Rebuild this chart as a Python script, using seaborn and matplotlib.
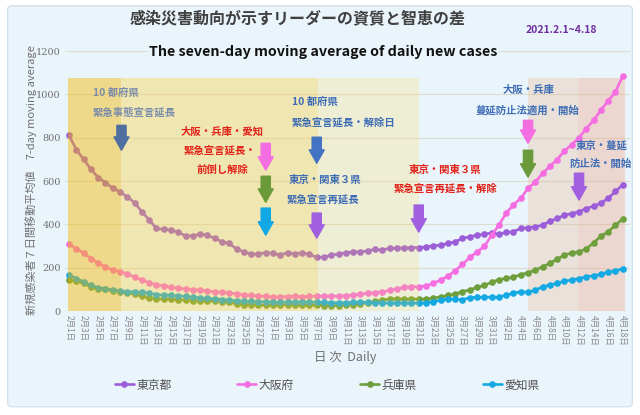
import numpy as np
import pandas as pd
import seaborn as sns
import matplotlib.pyplot as plt
from matplotlib.patches import FancyBboxPatch

# データ (2021.2.1 ~ 4.18, 7日間移動平均)
prefs = ['東京都', '大阪府', '兵庫県', '愛知県']
colors = ['#9b5ed8', '#f46ee2', '#6f9f3c', '#14a9e3']

tokyo = [811, 745, 700, 655, 616, 593, 567, 550, 527, 500,
         458, 420, 381, 377, 374, 363, 347, 347, 355, 350,
         335, 320, 312, 286, 273, 263, 263, 270, 266, 258,
         270, 263, 269, 261, 248, 248, 258, 263, 269, 273,
         273, 278, 284, 281, 290, 290, 291, 293, 293, 296,
         301, 304, 312, 320, 335, 343, 350, 354, 361, 354,
         363, 366, 381, 384, 389, 396, 415, 427, 442, 450,
         458, 473, 484, 498, 520, 552, 583]
osaka = [308, 288, 268, 242, 222, 202, 190, 182, 172, 156,
         144, 130, 121, 116, 110, 106, 101, 98, 97, 93,
         89, 86, 83, 79, 75, 72, 70, 67, 65, 66,
         66, 68, 66, 67, 69, 69, 69, 69, 71, 74,
         78, 81, 85, 89, 95, 103, 109, 112, 112, 116,
         128, 143, 161, 186, 215, 247, 273, 298, 350, 396,
         452, 490, 520, 566, 596, 635, 668, 699, 739, 768,
         800, 842, 880, 927, 970, 1011, 1085]
hyogo = [143, 138, 128, 110, 103, 100, 93, 88, 82, 80,
         68, 62, 57, 55, 55, 53, 50, 48, 47, 47,
         45, 43, 40, 33, 30, 30, 28, 27, 28, 28,
         30, 30, 27, 27, 27, 25, 25, 25, 27, 30,
         33, 38, 45, 50, 55, 57, 55, 55, 55, 55,
         60, 65, 72, 78, 90, 97, 110, 118, 133, 144,
         151, 156, 168, 176, 189, 204, 220, 240, 258, 268,
         273, 287, 315, 345, 366, 396, 425]
aichi = [165, 150, 135, 118, 108, 103, 97, 93, 90, 88,
         86, 82, 76, 73, 72, 70, 67, 63, 60, 58,
         56, 52, 50, 47, 45, 44, 43, 42, 41, 40,
         42, 42, 41, 41, 40, 40, 38, 38, 38, 40,
         40, 40, 38, 37, 36, 37, 37, 36, 36, 38,
         43, 50, 55, 54, 52, 62, 63, 64, 64, 63,
         74, 82, 89, 86, 96, 112, 120, 128, 138, 143,
         150, 158, 163, 170, 180, 186, 195]

dates = pd.date_range('2021-02-01', periods=len(tokyo))
date_labels = [f'{d.month}月{d.day}日' for d in dates]
day_idx = np.arange(len(dates))

df = pd.DataFrame({'day': day_idx, '東京都': tokyo, '大阪府': osaka,
                   '兵庫県': hyogo, '愛知県': aichi})
long_df = df.melt(id_vars='day', var_name='pref', value_name='cases')

sns.set_style('white')
plt.rcParams['font.family'] = ['Noto Sans CJK JP', 'DejaVu Sans']

fig = plt.figure(figsize=(6.4, 4.15), dpi=100)
fig.patch.set_facecolor('white')
fig.patches.append(FancyBboxPatch((0.012, 0.02), 0.976, 0.966,
                                  boxstyle='round,pad=0,rounding_size=0.008',
                                  transform=fig.transFigure, facecolor='#eaf4fb',
                                  edgecolor='#d3e1ec', linewidth=1, zorder=-10))

ax = fig.add_axes([0.1016, 0.2506, 0.8828, 0.6265])
ax.patch.set_alpha(0)

sns.lineplot(data=long_df, x='day', y='cases', hue='pref', hue_order=prefs,
             palette=colors, marker='o', markersize=4.8, markeredgewidth=0,
             linewidth=1.9, legend=False, ax=ax, zorder=3)

# 背景の期間区分 (黄色系は線の上に重ねる)
top = 1074 / 1200
ax.axvspan(-0.1, 7.2, ymax=top, color='#f5b800', alpha=0.45, lw=0, zorder=4)
ax.axvspan(7.2, 34.2, ymax=top, color='#ffcc20', alpha=0.33, lw=0, zorder=4)
ax.axvspan(34.2, 48, ymax=top, color='#ffd840', alpha=0.2, lw=0, zorder=4)
ax.axvspan(63, 69.9, ymax=top, color='#e8b890', alpha=0.3, lw=0, zorder=1)
ax.axvspan(69.9, 76.3, ymax=top, color='#f0a080', alpha=0.35, lw=0, zorder=1)

ax.set_xlim(-0.55, 77)
ax.set_ylim(0, 1200)
ax.set_xticks(day_idx[::2])
ax.set_xticklabels(date_labels[::2], rotation=270, fontsize=6, color='#8a8a8a')
ax.set_yticks(range(0, 1201, 200))
ax.set_yticklabels([str(v) for v in range(0, 1201, 200)],
                   fontsize=7, color='#707070', family='DejaVu Serif')
ax.tick_params(length=0, pad=3)
ax.grid(axis='y', color='#dcdcd2', linewidth=0.8)
ax.set_axisbelow(True)
sns.despine(ax=ax, left=True, bottom=True)
ax.set_xlabel('')
ax.set_ylabel('')


def down_arrow(x, y0, y1, color):
    ax.annotate('', xy=(x, y1), xytext=(x, y0), zorder=6,
                arrowprops=dict(arrowstyle='simple,head_width=0.9,head_length=0.8,tail_width=0.55',
                                color=color, mutation_scale=12, shrinkA=0, shrinkB=0))


def note(x, y, s, color, ha='center'):
    ax.text(x, y, s, ha=ha, va='center', fontsize=7.5, fontweight='bold',
            color=color, zorder=6)


blue = '#3e6db5'
red = '#e2231a'
grayblue = '#7b8cab'

note(3.3, 1005, '10 都府県', grayblue, ha='left')
note(3.3, 917, '緊急事態宣言延長', grayblue, ha='left')
down_arrow(7.2, 857, 742, '#4f6fa0')

note(21, 830, '大阪・兵庫・愛知', red)
note(20.7, 742, '緊急宣言延長・', red)
note(21, 650, '前倒し解除', red)
down_arrow(27, 774, 650, '#f46ee2')
down_arrow(27, 622, 502, '#6a9a3a')
down_arrow(27, 475, 350, '#12a8e6')

note(30.6, 963, '10 都府県', blue, ha='left')
note(30.6, 871, '緊急宣言延長・解除日', blue, ha='left')
down_arrow(34, 802, 682, '#4472c4')
note(30.1, 604, '東京・関東３県', blue, ha='left')
note(29.8, 516, '緊急宣言再延長', blue, ha='left')
down_arrow(34, 452, 336, '#a060e0')

note(51.6, 650, '東京・関東３県', red)
note(51.6, 567, '緊急宣言再延長・解除', red)
down_arrow(48, 489, 364, '#a060e0')

note(63.1, 1019, '大阪・兵庫', blue)
note(62.9, 927, '蔓延防止法適用・開始', blue)
down_arrow(63, 880, 774, '#f46ee2')
down_arrow(63, 742, 618, '#6a9a3a')

note(73.1, 765, '東京・蔓延', blue)
note(73.0, 682, '防止法・開始', blue)
down_arrow(70, 636, 512, '#a060e0')

# タイトル・ラベル
fig.text(0.465, 0.957, '感染災害動向が示すリーダーの資質と智恵の差', ha='center', va='center',
         fontsize=11.5, fontweight='bold', color='#404040')
fig.text(0.877, 0.928, '2021.2.1~4.18', ha='center', va='center',
         fontsize=7.5, fontweight='bold', color='#7030a0')
fig.text(0.505, 0.875, 'The seven-day moving average of daily new cases', ha='center',
         va='center', fontsize=10.3, fontweight='bold', color='#111111',
         bbox=dict(facecolor='#eaf4fb', edgecolor='none', pad=1))
fig.text(0.048, 0.566, '新規感染者７日間移動平均値　7-day moving average', rotation=90,
         ha='center', va='center', fontsize=8, color='#707070')
fig.text(0.54, 0.14, '日 次  Daily', ha='center', va='center', fontsize=9, color='#707070')

fig.legend(ax.lines[:4], prefs, loc='center', bbox_to_anchor=(0.511, 0.072), ncol=4,
           frameon=False, fontsize=8.5, columnspacing=5.6, handlelength=1.6,
           handletextpad=0.2, labelcolor='#505050')

plt.savefig('out.png', dpi=100, facecolor=fig.get_facecolor())
